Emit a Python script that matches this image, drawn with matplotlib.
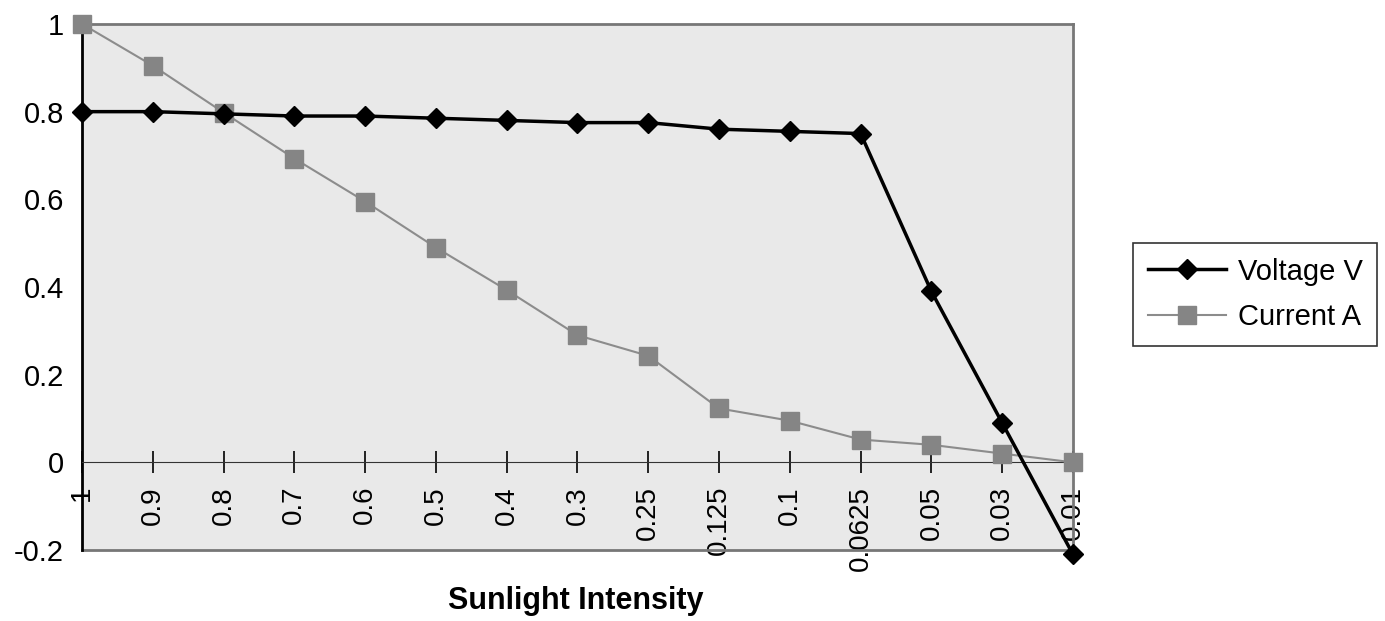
import numpy as np
import matplotlib.pyplot as plt

plt.rcParams['font.family'] = ['Liberation Sans', 'DejaVu Sans']

intensity = ['1', '0.9', '0.8', '0.7', '0.6', '0.5', '0.4', '0.3', '0.25',
             '0.125', '0.1', '0.0625', '0.05', '0.03', '0.01']
voltage = [0.80, 0.80, 0.795, 0.79, 0.79, 0.785, 0.78, 0.775, 0.775,
           0.76, 0.755, 0.75, 0.39, 0.09, -0.21]
current = [1.0, 0.905, 0.798, 0.693, 0.595, 0.49, 0.393, 0.29, 0.243,
           0.123, 0.095, 0.052, 0.04, 0.02, 0.0]
y_ticks = [-0.2, 0, 0.2, 0.4, 0.6, 0.8, 1]

fig = plt.figure(figsize=(13.85, 6.21), dpi=100)
ax = fig.add_axes([0.0592, 0.1143, 0.7155, 0.8471])
ax.set_facecolor('#e9e9e9')

# category axis crosses at y = 0 (set before tick styling, it resets ticks)
ax.spines['bottom'].set_position(('data', 0))

x = np.arange(len(intensity))
ax.plot(x, voltage, color='black', lw=2.5, marker='D', ms=10,
        label='Voltage V', clip_on=False, zorder=4)
ax.plot(x, current, color='#8c8c8c', lw=1.5, marker='s', ms=13,
        mfc='#858585', mec='#858585', label='Current A', clip_on=False, zorder=3)

ax.set_xlim(0, len(intensity) - 1)
ax.set_ylim(-0.2, 1)
ax.set_yticks(y_ticks)
ax.set_yticklabels(['-0.2', '0', '0.2', '0.4', '0.6', '0.8', '1'], fontsize=21)
ax.tick_params(axis='y', length=0, pad=13)

ax.set_xticks(x)
ax.set_xticklabels(intensity, rotation=90, fontsize=20, va='top')
ax.tick_params(axis='x', direction='inout', length=16, width=1.2, pad=9)

ax.spines['bottom'].set_color('#333333')
ax.spines['left'].set_color('black')
ax.spines['left'].set_linewidth(2)
ax.spines['top'].set_color('#777777')
ax.spines['top'].set_linewidth(2)
ax.spines['right'].set_color('#777777')
ax.spines['right'].set_linewidth(2)
ax.plot([0, 1], [0, 0], transform=ax.transAxes, color='#777777', lw=2,
        clip_on=False, zorder=2)

fig.text(0.416, 0.008, 'Sunlight Intensity', ha='center', va='bottom',
         fontsize=22, fontweight='bold')

leg = ax.legend(loc='center left', bbox_to_anchor=(0.818, 0.526),
                bbox_transform=fig.transFigure, fontsize=21, frameon=True,
                fancybox=False, edgecolor='black', handlelength=2.7,
                borderpad=0.5, labelspacing=0.6, handletextpad=0.4,
                borderaxespad=0)
leg.get_frame().set_linewidth(1.2)

fig.savefig('out.png', dpi=100)
